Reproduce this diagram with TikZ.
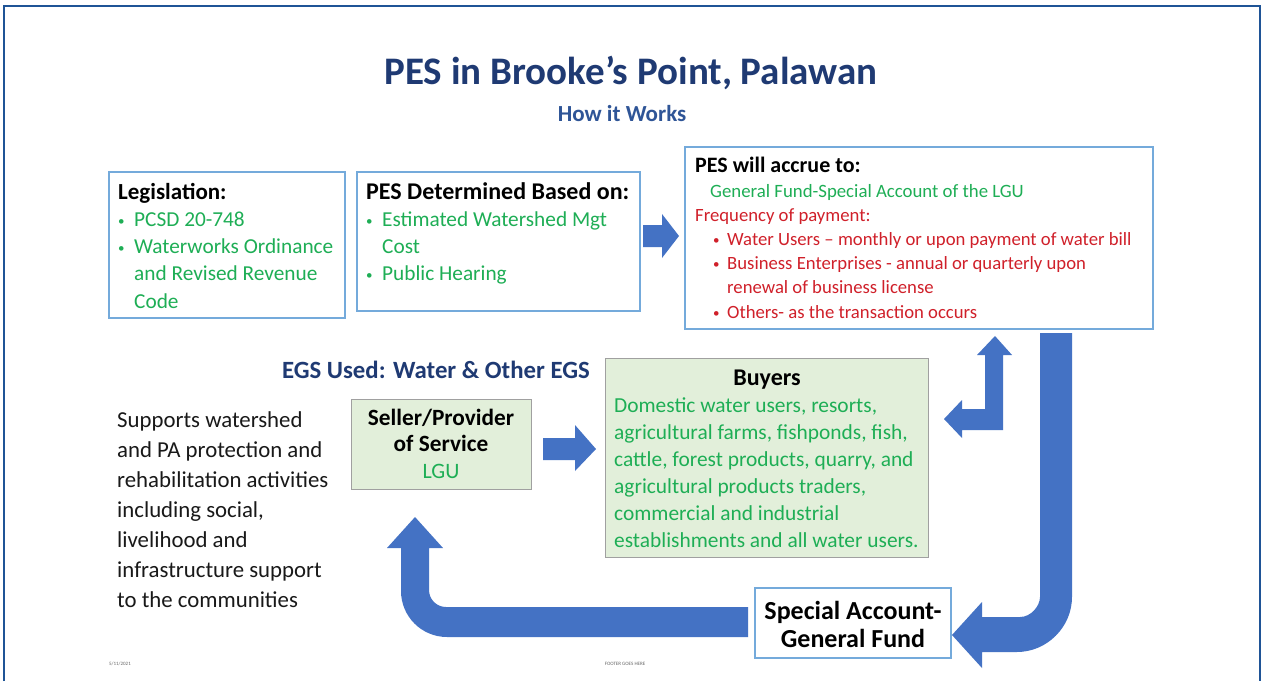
\documentclass[tikz,border=0pt]{standalone}
\usepackage{fontspec}
\setmainfont{Carlito}
\usetikzlibrary{positioning}
\definecolor{navy}{HTML}{1F3A73}
\definecolor{hdblue}{HTML}{2F5597}
\definecolor{boxblue}{HTML}{74AADB}
\definecolor{arrowblue}{HTML}{4472C4}
\definecolor{pesgreen}{HTML}{1EAE55}
\definecolor{pesred}{HTML}{D0202A}
\definecolor{buyfill}{HTML}{E2EFDA}
\definecolor{buyline}{HTML}{A0A0A0}
\definecolor{frameblue}{HTML}{1F5496}
\newcommand{\bul}[1]{\makebox[#1][l]{\raisebox{1pt}{\fontsize{13}{13}\selectfont\textbullet}}}
\begin{document}
\begin{tikzpicture}[x=1pt,y=-1pt]
  \tikzset{ b/.style={draw=boxblue,line width=1.2pt,fill=white,inner sep=0pt},
    g/.style={draw=buyline,line width=1pt,fill=buyfill,inner sep=0pt},
    t/.style={inner sep=0pt,align=left,anchor=base west},
    c/.style={inner sep=0pt,align=center,anchor=base},
    blk/.style={fill=arrowblue},
  }
  \useasboundingbox[fill=white] (0,0) rectangle (1262,681);
  \draw[frameblue,line width=2.5pt] (4,681) -- (4,6) -- (1260,6) -- (1260,681);

  \node[c,navy,font=\fontsize{39}{39}\selectfont\bfseries] (title) at (631,84) {PES in Brooke’s Point, Palawan};
  \node[c,hdblue,font=\fontsize{23}{23}\selectfont\bfseries] (how) at (622,121) {How it Works};

  \node[b,minimum width=236,minimum height=146] (leg) at (227,245) {};
  \node[b,minimum width=283,minimum height=139] (det) at (498.5,241.5) {};
  \node[b,minimum width=468,minimum height=182] (acc) at (919,238) {};
  \node[g,minimum width=180,minimum height=90] (sel) at (441,444) {};
  \node[g,minimum width=323,minimum height=199] (buy) at (766.5,457.5) {};
  \node[b,minimum width=196,minimum height=70] (spa) at (853,623) {};

  \node[t,pesgreen,font=\fontsize{21.3}{27.3}\selectfont] (legt) at (118,308.2)
    {\textcolor{black}{\fontsize{23}{27.3}\selectfont\bfseries Legislation:}\\ \bul{16pt}PCSD 20-748\\ \bul{16pt}Waterworks Ordinance\\
     \hspace*{16pt}and Revised Revenue\\ \hspace*{16pt}Code};
  \node[t,pesgreen,font=\fontsize{21.3}{27.3}\selectfont] (dett) at (366,280.9)
    {\textcolor{black}{\fontsize{24}{27.3}\selectfont\bfseries PES Determined Based on:}\\ \bul{16pt}Estimated Watershed Mgt\\
     \hspace*{16pt}Cost\\ \bul{16pt}Public Hearing};
  \node[t,font=\fontsize{22}{22}\selectfont\bfseries] (acch) at (695,172) {PES will accrue to:};
  \node[t,pesgreen,font=\fontsize{18.8}{18.8}\selectfont] (accg) at (710,197) {General Fund-Special Account of the LGU};
  \node[t,pesred,font=\fontsize{18.7}{24.3}\selectfont] (accr) at (695,318.2)
    {Frequency of payment:\\ \hspace*{18pt}\bul{14pt}Water Users – monthly or upon payment of water bill\\
     \hspace*{18pt}\bul{14pt}Business Enterprises - annual or quarterly upon\\
     \hspace*{32pt}renewal of business license\\ \hspace*{18pt}\bul{14pt}Others- as the transaction occurs};

  \node[navy,inner sep=0pt,anchor=base east,font=\fontsize{24.8}{24.8}\selectfont\bfseries] (egs) at (590,378) {EGS Used: Water \& Other EGS};
  \node[c,font=\fontsize{23.3}{26.5}\selectfont] (selt) at (441,478)
    {\bfseries Seller/Provider\\ \bfseries of Service\\ \textcolor{pesgreen}{\fontsize{22}{26.5}\selectfont LGU}};
  \node[c,font=\fontsize{24}{24}\selectfont\bfseries] (buyh) at (767,385) {Buyers};
  \node[t,pesgreen,font=\fontsize{21.4}{27}\selectfont] (buyt) at (614,547)
    {Domestic water users, resorts,\\ agricultural farms, fishponds, fish,\\ cattle, forest products, quarry, and\\
     agricultural products traders,\\ commercial and industrial\\ establishments and all water users.};
  \node[t,black!90,font=\fontsize{22.8}{30}\selectfont] (sup) at (117,607)
    {Supports watershed\\ and PA protection and\\ rehabilitation activities\\ including social,\\
     livelihood and\\ infrastructure support\\ to the communities};
  \node[c,font=\fontsize{26}{28}\selectfont\bfseries] (spat) at (853,647) {Special Account-\\ General Fund};

  \node[c,black!60,font=\fontsize{5}{5}\selectfont] (date) at (120,665) {5/11/2021};
  \node[c,black!60,font=\fontsize{5}{5}\selectfont] (foot) at (625,665) {FOOTER GOES HERE};

  \fill[blk] (643,225) -- (662,225) -- (662,214) -- (679,236) -- (662,258) -- (662,247) -- (643,247) -- cycle;
  \fill[blk] (543,438) -- (575,438) -- (575,425) -- (596,449) -- (575,471) -- (575,460) -- (543,460) -- cycle;
  \fill[blk] (944,419) -- (962,400) -- (962,409) -- (985,409) -- (985,355) -- (977,355) -- (995,336)
    -- (1012,355) -- (1003,355) -- (1003,430) -- (962,430) -- (962,438) -- cycle;
  \fill[blk] (1040,333) -- (1072,333) -- (1072,597) .. controls (1072,627) and (1047,652) .. (1017,652)
    -- (982,652) -- (982,668) -- (952,635) -- (982,602) -- (982,617) -- (1020,617)
    .. controls (1031,617) and (1040,606) .. (1040,597) -- cycle;
  \fill[blk] (748,607) -- (446,607) .. controls (436.6,607) and (429,599.4) .. (429,590) -- (429,548)
    -- (443,548) -- (415,517) -- (387,548) -- (401,548) -- (401,591)
    .. controls (401,616.4) and (421.6,637) .. (447,637) -- (748,637) -- cycle;
\end{tikzpicture}
\end{document}
